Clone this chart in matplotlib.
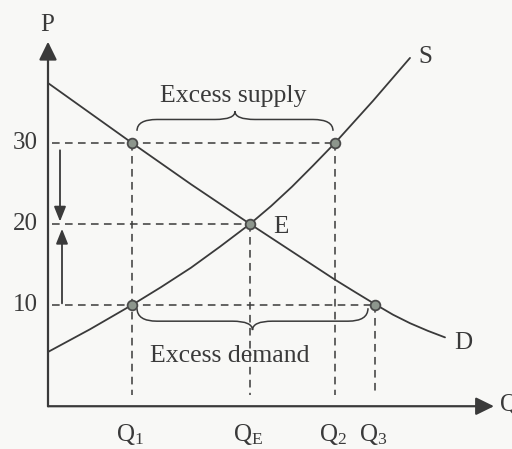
import matplotlib
matplotlib.use("Agg")
import matplotlib.pyplot as plt
from matplotlib.path import Path
from matplotlib.patches import PathPatch

plt.rcParams['font.family'] = ['Liberation Serif', 'DejaVu Serif']
plt.rcParams['mathtext.fontset'] = 'custom'
plt.rcParams['mathtext.rm'] = 'Liberation Serif'

# Dados
precos = [10, 20, 30]
rotulos_preco = ["10", "20", "30"]

q1, qe, q2, q3 = 8.4, 20.2, 28.7, 32.7
rotulos_q = [r"$\mathrm{Q_1}$", r"$\mathrm{Q_E}$", r"$\mathrm{Q_2}$", r"$\mathrm{Q_3}$"]

# curva de demanda (D)
demanda_q = [0, 4.2, 8.4, 14.3, 20.2, 24.4, 28.6, 30.7, 32.7, 34.5, 36.2, 38.0, 39.7]
demanda_p = [37.4, 33.7, 30, 24.9, 20, 16.6, 13.2, 11.6, 10.1, 8.8, 7.75, 6.8, 6.0]

# curva de oferta (S)
oferta_q = [0, 4.2, 8.4, 11.3, 14.3, 17.2, 20.2, 22.3, 24.4, 26.5, 28.7, 32.5, 36.2]
oferta_p = [4.2, 7.0, 10, 12.2, 14.6, 17.2, 20, 22.2, 24.6, 27.2, 30, 35.2, 40.5]

# pontos marcados
pontos_q = [q1, q2, qe, q1, q3]
pontos_p = [30, 30, 20, 10, 10]

cor = "#3a3a3a"
fundo = "#f8f8f6"

fig = plt.figure(figsize=(5.12, 4.49), dpi=100, facecolor=fundo)
ax = fig.add_axes([0, 0, 1, 1])
ax.set_facecolor(fundo)
ax.set_xlim(-4.8, 46.4)
ax.set_ylim(-7.78, 47.65)
ax.axis("off")

eixo_p = -2.5

# eixos com setas
seta_eixo = dict(arrowstyle="-|>,head_length=0.55,head_width=0.27", color=cor,
                 lw=1.6, shrinkA=0, shrinkB=0, mutation_scale=20)
ax.annotate("", xy=(44.6, eixo_p), xytext=(0, eixo_p), arrowprops=seta_eixo)
ax.annotate("", xy=(0, 42.5), xytext=(0, eixo_p), arrowprops=seta_eixo)
ax.text(-0.1, 44.6, "P", fontsize=18, color=cor, ha="center", va="center")
ax.text(45.2, -2.3, "Q", fontsize=18, color=cor, ha="left", va="center")

# linhas tracejadas
tracejado = dict(color=cor, lw=1.1, linestyle=(0, (5, 3.5)))
ax.plot([0.4, q2], [30, 30], **tracejado)
ax.plot([0.4, qe], [20, 20], **tracejado)
ax.plot([0.4, q3], [10, 10], **tracejado)
for q, p in [(q1, 30), (qe, 20), (q2, 30), (q3, 10)]:
    ax.plot([q, q], [p, -1.1], **tracejado)

# curvas
ax.plot(demanda_q, demanda_p, color=cor, lw=1.3, solid_capstyle="round", solid_joinstyle="round")
ax.plot(oferta_q, oferta_p, color=cor, lw=1.3, solid_capstyle="round", solid_joinstyle="round")
ax.plot(pontos_q, pontos_p, "o", ms=7, mfc="#8d968d", mec="#4a4a4a", mew=1.3)

# rótulos
for p, r in zip(precos, rotulos_preco):
    ax.text(-1.0, p, r, fontsize=18, color=cor, ha="right", va="center")
for q, r in zip([q1, qe, q2, q3], rotulos_q):
    ax.text(q - 0.2, -6.0, r, fontsize=18, color=cor, ha="center", va="center")
ax.text(23.3, 19.6, "E", fontsize=18, color=cor, ha="center", va="center")
ax.text(37.7, 40.6, "S", fontsize=18, color=cor, ha="center", va="center")
ax.text(41.5, 5.3, "D", fontsize=18, color=cor, ha="center", va="center")

# setas de ajuste de preço
seta = dict(arrowstyle="-|>,head_length=0.45,head_width=0.18", color=cor,
            lw=1.3, shrinkA=0, shrinkB=0, mutation_scale=20)
ax.annotate("", xy=(1.2, 20.3), xytext=(1.2, 29.1), arrowprops=seta)
ax.annotate("", xy=(1.4, 19.4), xytext=(1.4, 10.2), arrowprops=seta)


def chave(x0, x1, yb, a, t, r=2.0):
    xm = (x0 + x1) / 2
    yf = yb + a
    verts = [(x0, yb), (x0, yf), (x0 + r, yf),
             (xm - r, yf), (xm, yf), (xm, yf + t),
             (xm, yf), (xm + r, yf),
             (x1 - r, yf), (x1, yf), (x1, yb)]
    codes = [Path.MOVETO, Path.CURVE3, Path.CURVE3,
             Path.LINETO, Path.CURVE3, Path.CURVE3,
             Path.CURVE3, Path.CURVE3,
             Path.LINETO, Path.CURVE3, Path.CURVE3]
    ax.add_patch(PathPatch(Path(verts, codes), fill=False, ec=cor, lw=1.1))


chave(q1 + 0.5, q2 - 0.2, 31.5, 1.4, 1.0)
chave(q1 + 0.5, q3 - 0.7, 9.6, -1.6, -1.1)
ax.text(18.5, 35.8, "Excess supply", fontsize=18.5, color=cor, ha="center", va="center")
ax.text(18.2, 3.7, "Excess demand", fontsize=18.5, color=cor, ha="center", va="center")

fig.savefig("out.png", dpi=100, facecolor=fundo)
